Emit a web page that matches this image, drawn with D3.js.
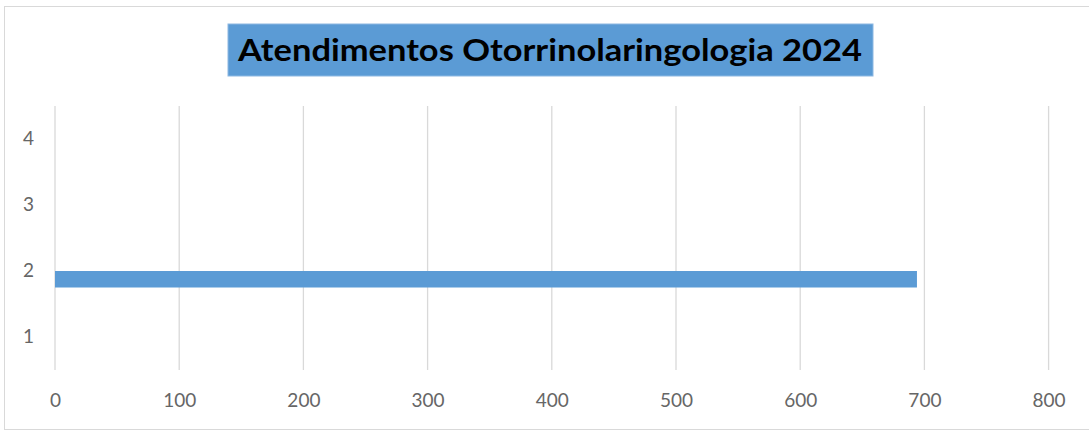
<!DOCTYPE html>
<html>
<head>
<meta charset="utf-8">
<script src="https://cdn.jsdelivr.net/npm/d3@7"></script>
<style>
  body { margin: 0; background: #fff; }
  .tick text { font-family: Lato, "Open Sans", sans-serif; font-size: 19px; fill: #666; }
</style>
</head>
<body>
<script>
// data
var categories = ["1", "2", "3", "4"];
var seriesNames = ["Atendimentos", "Outros"];
var atendimentos = [null, 694, null, null];
var outros = [null, null, null, null];
var xTicks = [0, 100, 200, 300, 400, 500, 600, 700, 800];
var title = "Atendimentos Otorrinolaringologia 2024";

var width = 1089, height = 431;
var margins = {top: 106, left: 55, right: 40, bottom: 61};

var svg = d3.select("body").append("svg")
    .attr("width", width)
    .attr("height", height);

// chart frame
svg.append("rect")
    .attr("x", 4.5).attr("y", 6.5)
    .attr("width", width + 10).attr("height", 423)
    .attr("fill", "#fff")
    .attr("stroke", "#d9d9d9");

var x = d3.scaleLinear().domain([0, 800]).range([margins.left, 1048.6]);
var y = d3.scaleBand().domain(categories.slice().reverse())
    .range([margins.top, height - margins.bottom]);
// clustered bars, first series sits at the bottom of the cluster
var ySub = d3.scaleBand().domain(seriesNames.slice().reverse())
    .range([y.bandwidth() / 4, y.bandwidth() * 3 / 4]);

// grid lines
svg.append("g").selectAll("line").data(xTicks).enter()
    .append("line")
    .attr("x1", function (d) { return x(d); })
    .attr("x2", function (d) { return x(d); })
    .attr("y1", margins.top)
    .attr("y2", height - margins.bottom)
    .attr("stroke", "#d9d9d9")
    .attr("stroke-width", 1.3);

// x axis labels
var xAxis = d3.axisBottom(x).tickValues(xTicks).tickSize(0).tickPadding(24);
svg.append("g")
    .attr("transform", "translate(0," + (height - margins.bottom) + ")")
    .call(xAxis)
    .call(function (g) { g.select(".domain").remove(); });

// y axis labels
var yAxis = d3.axisLeft(y).tickSize(0).tickPadding(21);
svg.append("g")
    .attr("transform", "translate(" + margins.left + ",0)")
    .call(yAxis)
    .call(function (g) { g.select(".domain").remove(); });

// bars
var rows = [];
categories.forEach(function (c, i) {
    rows.push({cat: c, s: seriesNames[0], v: atendimentos[i]});
    rows.push({cat: c, s: seriesNames[1], v: outros[i]});
});

svg.append("g").selectAll("rect")
    .data(rows.filter(function (d) { return d.v != null; }))
    .enter().append("rect")
    .attr("x", x(0))
    .attr("y", function (d) { return y(d.cat) + ySub(d.s); })
    .attr("width", function (d) { return x(d.v) - x(0); })
    .attr("height", ySub.bandwidth())
    .attr("fill", "#5b9bd5");

// title box
svg.append("rect")
    .attr("x", 228).attr("y", 24)
    .attr("width", 645).attr("height", 52)
    .attr("fill", "#5b9bd5")
    .attr("stroke", "#8db8e2")
    .attr("stroke-width", 1);

svg.append("text")
    .attr("x", 550).attr("y", 61)
    .attr("text-anchor", "middle")
    .attr("font-family", "Lato, 'Open Sans', sans-serif")
    .attr("font-weight", "bold")
    .attr("font-size", 31)
    .attr("textLength", 624)
    .attr("lengthAdjust", "spacingAndGlyphs")
    .attr("fill", "#000")
    .text(title);
</script>
</body>
</html>
